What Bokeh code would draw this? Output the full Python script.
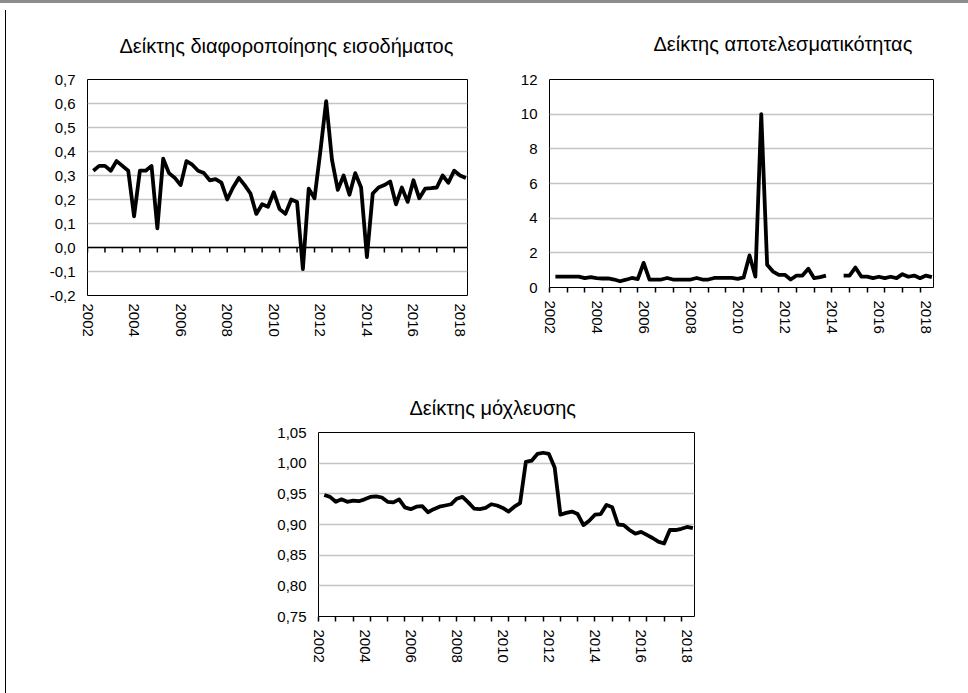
from bokeh.plotting import figure
from bokeh.models import FixedTicker, Span, Spacer, Title
from bokeh.layouts import row, column
from bokeh.embed import file_html
from bokeh.resources import INLINE

# Quarterly observations 2002Q2 .. 2018Q2 (65 quarters), x in fractional years
quarter_x = [2002.25 + 0.25 * i for i in range(65)]

income_div = [0.32, 0.34, 0.34, 0.32, 0.36, 0.34, 0.32, 0.13, 0.32, 0.32,
              0.34, 0.08, 0.37, 0.31, 0.29, 0.26, 0.36, 0.345, 0.32, 0.31,
              0.28, 0.285, 0.27, 0.20, 0.25, 0.29, 0.26, 0.225, 0.14, 0.18,
              0.17, 0.23, 0.16, 0.14, 0.20, 0.19, -0.09, 0.245, 0.205, 0.40,
              0.61, 0.365, 0.24, 0.30, 0.22, 0.31, 0.25, -0.04, 0.225, 0.25,
              0.26, 0.275, 0.18, 0.25, 0.19, 0.28, 0.205, 0.245, 0.247, 0.25,
              0.30, 0.27, 0.32, 0.30, 0.29]

NaN = float("nan")
efficiency = [0.63, 0.63, 0.63, 0.63, 0.63, 0.54, 0.60, 0.54, 0.52, 0.52,
              0.46, 0.36, 0.45, 0.55, 0.48, 1.42, 0.46, 0.46, 0.46, 0.55,
              0.46, 0.46, 0.46, 0.46, 0.55, 0.46, 0.46, 0.55, 0.55, 0.55,
              0.55, 0.50, 0.58, 1.85, 0.63, 10.0, 1.31, 0.92, 0.73, 0.73,
              0.46, 0.69, 0.69, 1.08, 0.54, 0.60, 0.69, NaN, NaN, 0.69,
              0.69, 1.15, 0.63, 0.63, 0.54, 0.62, 0.54, 0.62, 0.54, 0.77,
              0.62, 0.69, 0.54, 0.69, 0.60]

leverage = [0.948, 0.945, 0.937, 0.941, 0.937, 0.939, 0.938, 0.941, 0.945, 0.946,
            0.944, 0.937, 0.936, 0.941, 0.928, 0.925, 0.929, 0.930, 0.920, 0.925,
            0.929, 0.931, 0.933, 0.942, 0.945, 0.936, 0.926, 0.925, 0.927, 0.933,
            0.931, 0.927, 0.921, 0.929, 0.935, 1.002, 1.004, 1.015, 1.017, 1.015,
            0.993, 0.916, 0.919, 0.921, 0.917, 0.899, 0.906, 0.916, 0.917, 0.932,
            0.928, 0.900, 0.899, 0.891, 0.885, 0.888, 0.883, 0.878, 0.872, 0.869,
            0.891, 0.891, 0.893, 0.896, 0.894]

year_ticks = [2002, 2004, 2006, 2008, 2010, 2012, 2014, 2016, 2018]
year_labels = ["2002", "2004", "2006", "2008", "2010", "2012", "2014", "2016", "2018"]
# tick marks every 3 quarters
mark_ticks = [2002 + 0.75 * k for k in range(22)]

y1_ticks = [-0.2, -0.1, 0.0, 0.1, 0.2, 0.3, 0.4, 0.5, 0.6, 0.7]
y1_labels = ["-0,2", "-0,1", "0,0", "0,1", "0,2", "0,3", "0,4", "0,5", "0,6", "0,7"]
y2_ticks = [0, 2, 4, 6, 8, 10, 12]
y2_labels = ["0", "2", "4", "6", "8", "10", "12"]
y3_ticks = [0.75, 0.80, 0.85, 0.90, 0.95, 1.00, 1.05]
y3_labels = ["0,75", "0,80", "0,85", "0,90", "0,95", "1,00", "1,05"]

titles = ["Δείκτης διαφοροποίησης εισοδήματος",
          "Δείκτης αποτελεσματικότητας",
          "Δείκτης μόχλευσης"]

FONT = "Liberation Sans"
X_RANGE = (2002.0, 2018.32)


def make_fig(title, title_left, title_standoff, fw, fh, left, right, top, bottom,
             yr, yticks, ylabels, xvals, yvals, ticks_at_bottom):
    p = figure(frame_width=fw, frame_height=fh,
               min_border_left=left, min_border_right=right,
               min_border_top=top, min_border_bottom=bottom,
               x_range=X_RANGE, y_range=yr,
               output_backend="svg", toolbar_location=None,
               border_fill_alpha=0, background_fill_color="white")
    p.outline_line_color = "black"
    p.outline_line_width = 1
    p.xgrid.visible = False
    p.ygrid.grid_line_color = "#c4c4c4"
    p.ygrid.grid_line_width = 1.5

    xa = p.xaxis[0]
    xa.ticker = FixedTicker(ticks=year_ticks,
                            minor_ticks=mark_ticks if ticks_at_bottom else [])
    xa.major_label_overrides = {t: l for t, l in zip(year_ticks, year_labels)}
    xa.major_label_orientation = "vertical"
    xa.major_tick_out = 0
    xa.major_tick_in = 0
    xa.minor_tick_in = 0
    xa.minor_tick_out = 5
    xa.minor_tick_line_color = "black"
    xa.minor_tick_line_width = 1.5
    xa.axis_line_color = None
    xa.major_label_standoff = 8
    xa.major_label_text_font = FONT
    xa.major_label_text_font_size = "15px"
    xa.major_label_text_color = "black"

    ya = p.yaxis[0]
    ya.ticker = FixedTicker(ticks=yticks)
    ya.major_label_overrides = {t: l for t, l in zip(yticks, ylabels)}
    ya.major_tick_out = 0
    ya.major_tick_in = 0
    ya.minor_tick_out = 0
    ya.minor_tick_in = 0
    ya.axis_line_color = None
    ya.major_label_standoff = 12
    ya.major_label_text_font = FONT
    ya.major_label_text_font_size = "15px"
    ya.major_label_text_color = "black"

    p.line(xvals, yvals, line_color="black", line_width=3.8, line_join="round")

    p.add_layout(Title(text=title, align="left", offset=title_left,
                       standoff=title_standoff,
                       text_font=FONT, text_font_size="20px",
                       text_font_style="normal", text_color="black"), "above")
    return p


p1 = make_fig(titles[0], 32, 45, 380, 216, 87, 33, 76, 68,
              (-0.2, 0.7), y1_ticks, y1_labels, quarter_x, income_div, False)
# zero axis line with hanging tick marks
p1.add_layout(Span(location=0, dimension="width", line_color="black",
                   line_width=1.5, level="underlay"))
p1.segment(x0=mark_ticks, y0=[0.0] * len(mark_ticks),
           x1=mark_ticks, y1=[-0.021] * len(mark_ticks),
           line_color="black", line_width=1.5)

p2 = make_fig(titles[1], 104, 49, 384, 208, 49, 35, 79, 73,
              (0, 12), y2_ticks, y2_labels, quarter_x, efficiency, True)

p3 = make_fig(titles[2], 91, 27, 376, 184, 68, 274, 72, 77,
              (0.75, 1.05), y3_ticks, y3_labels, quarter_x, leverage, True)

layout = column(
    row(p1, p2),
    row(Spacer(width=250, height=333), p3),
    styles={
        "background-color": "white",
        "background-image": "linear-gradient(#8c8c8c,#8c8c8c), linear-gradient(#000,#000)",
        "background-size": "100% 3px, 1px 683px",
        "background-position": "0px 0px, 5px 10px",
        "background-repeat": "no-repeat",
    },
)

open("out.html", "w").write(file_html(layout, INLINE))
